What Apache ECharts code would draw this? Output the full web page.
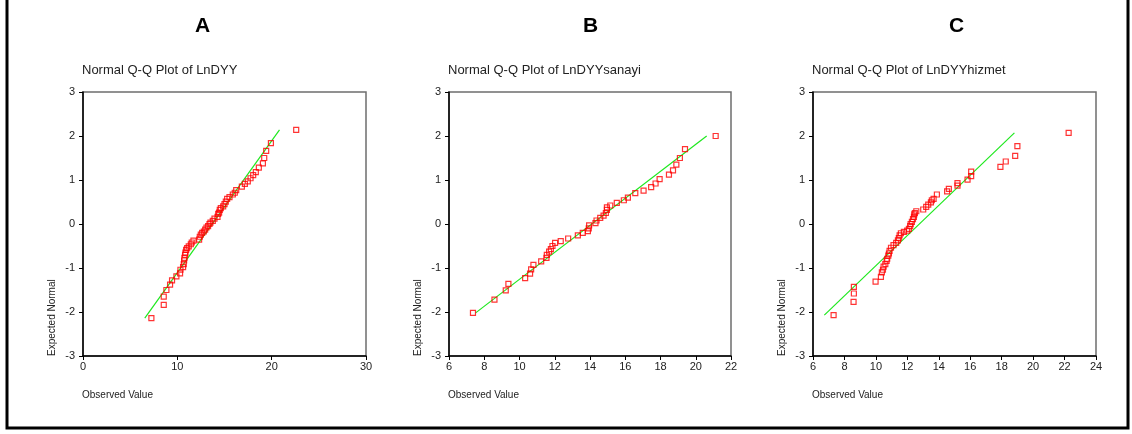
<!DOCTYPE html>
<html>
<head>
<meta charset="utf-8">
<script src="https://cdn.jsdelivr.net/npm/echarts@6/dist/echarts.min.js"></script>
<style>
  html, body { margin: 0; padding: 0; background: #fff; }
  #chart { width: 1132px; height: 434px; }
</style>
</head>
<body>
<div id="chart"></div>
<script>
// Panel letters and plot titles
const panelLetters = ['A', 'B', 'C'];
const plotTitles = ['Normal Q-Q Plot of LnDYY', 'Normal Q-Q Plot of LnDYYsanayi', 'Normal Q-Q Plot of LnDYYhizmet'];

// Axis ranges and tick steps for each panel
const xMin = [0, 6, 6];
const xMax = [30, 22, 24];
const xStep = [10, 2, 2];
const yMin = -3, yMax = 3, yStep = 1;

// Panel A: LnDYY (observed value, expected normal)
const obsA = [7.25, 8.56, 8.56, 8.84, 9.23, 9.44, 9.90, 10.29, 10.33, 10.61, 10.68, 10.72, 10.75, 10.82, 10.86,
  10.93, 11.04, 11.21, 11.43, 11.53, 11.71, 12.31, 12.38, 12.49, 12.63, 12.81, 12.95, 13.09, 13.26, 13.41,
  13.51, 13.76, 13.94, 14.26, 14.33, 14.43, 14.50, 14.61, 14.86, 15.00, 15.14, 15.28, 15.53, 15.88, 16.09,
  16.24, 16.84, 17.16, 17.47, 17.76, 18.04, 18.32, 18.64, 19.07, 19.21, 19.42, 19.92, 22.60];
const expA = [-2.14, -1.84, -1.65, -1.50, -1.38, -1.28, -1.19, -1.12, -1.04, -0.98, -0.91, -0.83, -0.77, -0.70, -0.65,
  -0.59, -0.55, -0.51, -0.46, -0.42, -0.38, -0.355, -0.29, -0.24, -0.20, -0.17, -0.13, -0.08, -0.05, 0.00,
  0.03, 0.07, 0.12, 0.16, 0.23, 0.26, 0.32, 0.36, 0.40, 0.45, 0.51, 0.57, 0.61, 0.67, 0.71,
  0.77, 0.85, 0.91, 0.97, 1.04, 1.11, 1.18, 1.28, 1.38, 1.50, 1.66, 1.84, 2.14];
const refLineA = [[6.55, -2.14], [20.83, 2.14]];

// Panel B: LnDYYsanayi
const obsB = [7.36, 8.58, 9.22, 9.37, 10.32, 10.60, 10.66, 10.79, 11.23, 11.53, 11.55, 11.68, 11.78, 11.87, 12.02,
  12.34, 12.76, 13.31, 13.59, 13.88, 13.93, 13.95, 14.31, 14.37, 14.58, 14.77, 14.90, 14.96, 14.96, 15.15,
  15.52, 15.92, 16.15, 16.57, 17.04, 17.47, 17.72, 17.95, 18.48, 18.71, 18.90, 19.10, 19.39, 21.13];
const expB = [-2.02, -1.72, -1.51, -1.36, -1.23, -1.13, -1.03, -0.93, -0.85, -0.77, -0.70, -0.63, -0.57, -0.50, -0.43,
  -0.39, -0.33, -0.26, -0.20, -0.16, -0.10, -0.03, 0.02, 0.08, 0.14, 0.19, 0.25, 0.32, 0.38, 0.42,
  0.48, 0.54, 0.60, 0.70, 0.76, 0.84, 0.92, 1.02, 1.12, 1.22, 1.35, 1.50, 1.70, 2.00];
const refLineB = [[7.51, -2.02], [20.62, 2.00]];

// Panel C: LnDYYhizmet
const obsC = [7.31, 8.58, 8.60, 8.60, 9.98, 10.32, 10.38, 10.45, 10.49, 10.60, 10.68, 10.72, 10.79, 10.83, 10.87,
  10.96, 11.12, 11.29, 11.40, 11.46, 11.51, 11.59, 11.78, 11.99, 12.10, 12.18, 12.21, 12.29, 12.36, 12.42,
  12.44, 12.48, 12.57, 13.01, 13.20, 13.33, 13.50, 13.56, 13.67, 13.88, 14.53, 14.64, 15.19, 15.19, 15.83,
  16.06, 16.06, 17.92, 18.26, 18.86, 19.00, 22.26];
const expC = [-2.07, -1.77, -1.58, -1.43, -1.31, -1.20, -1.10, -1.04, -0.97, -0.91, -0.84, -0.79, -0.72, -0.67, -0.61,
  -0.54, -0.48, -0.43, -0.37, -0.32, -0.26, -0.21, -0.18, -0.15, -0.11, -0.05, 0.00, 0.05, 0.11, 0.16,
  0.22, 0.25, 0.29, 0.33, 0.39, 0.44, 0.49, 0.54, 0.57, 0.67, 0.74, 0.80, 0.87, 0.93, 1.01,
  1.09, 1.19, 1.30, 1.42, 1.55, 1.77, 2.07];
const refLineC = [[6.72, -2.07], [18.81, 2.07]];

const observed = [obsA, obsB, obsC];
const expected = [expA, expB, expC];
const refLines = [refLineA, refLineB, refLineC];

// Layout of the three plot frames (pixels)
const gridLeft = [83, 449, 813];
const gridWidth = [283, 282, 283];
const gridTop = 92, gridHeight = 264;
const letterX = [203, 591, 957];

const FONT = 'Liberation Sans, Arial, sans-serif';
const chart = echarts.init(document.getElementById('chart'), null, { renderer: 'canvas' });

const grids = [], xAxes = [], yAxes = [], series = [], graphics = [];

for (let i = 0; i < 3; i++) {
  grids.push({
    left: gridLeft[i], top: gridTop, width: gridWidth[i], height: gridHeight,
    show: true, borderColor: '#6e6e6e', borderWidth: 1.5, backgroundColor: 'transparent'
  });
  xAxes.push({
    type: 'value', gridIndex: i, min: xMin[i], max: xMax[i], interval: xStep[i],
    axisLine: { show: true, onZero: false, lineStyle: { color: '#000', width: 1.5 } },
    axisTick: { show: true, length: 4, lineStyle: { color: '#000' } },
    axisLabel: { color: '#222', fontSize: 11, fontFamily: FONT, margin: 5 },
    splitLine: { show: false }
  });
  yAxes.push({
    type: 'value', gridIndex: i, min: yMin, max: yMax, interval: yStep,
    axisLine: { show: true, onZero: false, lineStyle: { color: '#000', width: 1.5 } },
    axisTick: { show: true, length: 4, lineStyle: { color: '#000' } },
    axisLabel: { color: '#222', fontSize: 11, fontFamily: FONT, margin: 8 },
    splitLine: { show: false }
  });
  series.push({
    type: 'line', xAxisIndex: i, yAxisIndex: i,
    data: refLines[i], showSymbol: false, silent: true,
    lineStyle: { color: '#1ee81e', width: 1.2 }, z: 2
  });
  series.push({
    type: 'scatter', xAxisIndex: i, yAxisIndex: i,
    data: observed[i].map((v, k) => [v, expected[i][k]]),
    symbol: 'rect', symbolSize: 5,
    itemStyle: { color: 'rgba(255,255,255,0)', borderColor: '#ff0000', borderWidth: 1.2 },
    z: 3
  });

  // Panel letter
  graphics.push({
    type: 'text', left: letterX[i] - 8, top: 16,
    style: { text: panelLetters[i], font: 'bold 21px ' + FONT, fill: '#000' }
  });
  // Plot title
  graphics.push({
    type: 'text', left: gridLeft[i] - 1, top: 64,
    style: { text: plotTitles[i], font: '13px ' + FONT, fill: '#222' }
  });
  // Axis names
  graphics.push({
    type: 'text', left: gridLeft[i] - 1, top: 390,
    style: { text: 'Observed Value', font: '10px ' + FONT, fill: '#222' }
  });
  graphics.push({
    type: 'text', x: gridLeft[i] - 26, y: 356, rotation: Math.PI / 2,
    style: { text: 'Expected Normal', font: '10px ' + FONT, fill: '#222',
             textAlign: 'left', textVerticalAlign: 'bottom' }
  });
}

// Outer frame
graphics.push({
  type: 'rect', shape: { x: 7, y: -10, width: 1121, height: 438 },
  style: { fill: 'none', stroke: '#000', lineWidth: 3 }, z: 10
});

chart.setOption({
  animation: false,
  backgroundColor: '#fff',
  grid: grids,
  xAxis: xAxes,
  yAxis: yAxes,
  series: series,
  graphic: graphics
});
</script>
</body>
</html>
